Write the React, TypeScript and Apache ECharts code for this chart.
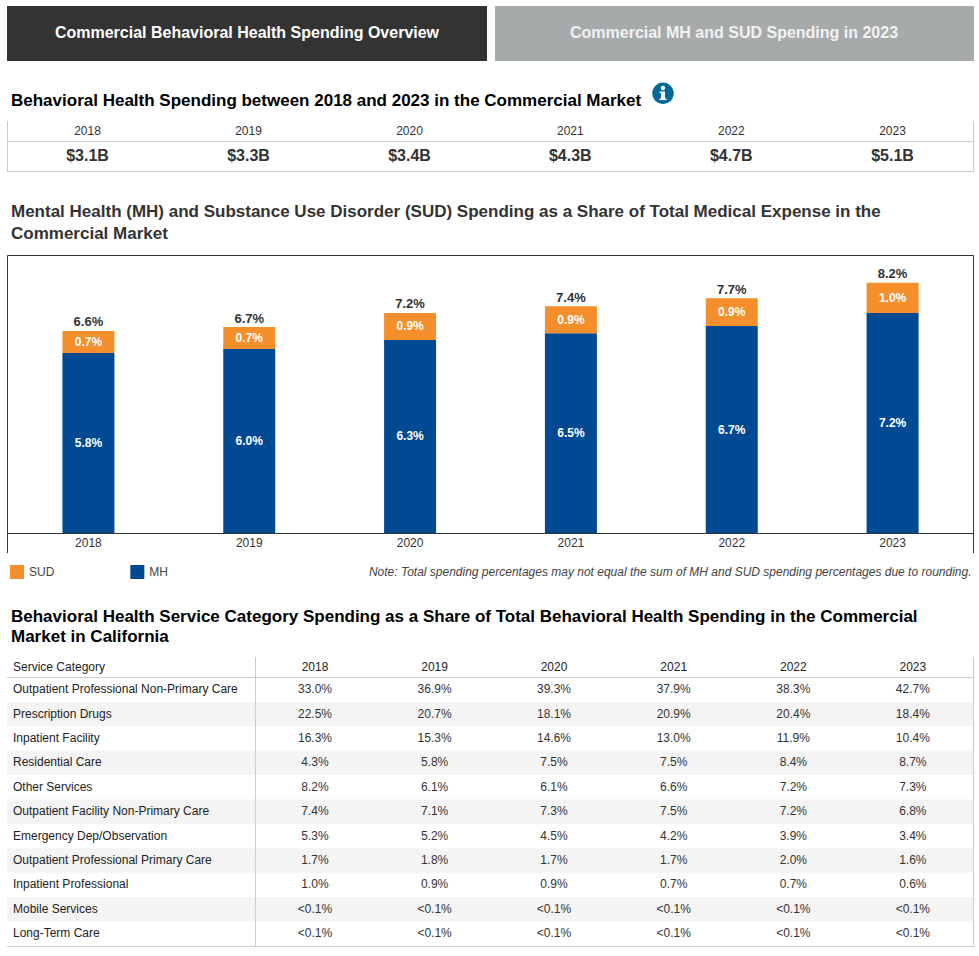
import React, { useEffect, useRef } from "react";
import * as echarts from "echarts";

const FONT = '"Liberation Sans", Arial, sans-serif';

const years = ["2018", "2019", "2020", "2021", "2022", "2023"];
const spending = ["$3.1B", "$3.3B", "$3.4B", "$4.3B", "$4.7B", "$5.1B"];
const mhValues = [5.86, 5.99, 6.29, 6.51, 6.74, 7.17];
const sudValues = [0.72, 0.72, 0.88, 0.88, 0.91, 0.98];
const mhLabels = ["5.8%", "6.0%", "6.3%", "6.5%", "6.7%", "7.2%"];
const sudLabels = ["0.7%", "0.7%", "0.9%", "0.9%", "0.9%", "1.0%"];
const totalValues = [6.58, 6.71, 7.17, 7.39, 7.65, 8.15];
const totalLabels = ["6.6%", "6.7%", "7.2%", "7.4%", "7.7%", "8.2%"];

const tabLeft = "Commercial Behavioral Health Spending Overview";
const tabRight = "Commercial MH and SUD Spending in 2023";
const heading1 = "Behavioral Health Spending between 2018 and 2023 in the Commercial Market";
const heading2 = [
  "Mental Health (MH) and Substance Use Disorder (SUD) Spending as a Share of Total Medical Expense in the",
  "Commercial Market",
];
const heading3 = [
  "Behavioral Health Service Category Spending as a Share of Total Behavioral Health Spending in the Commercial",
  "Market in California",
];
const note = "Note: Total spending percentages may not equal the sum of MH and SUD spending percentages due to rounding.";

const serviceHeader = "Service Category";
const serviceCategories = [
  "Outpatient Professional Non-Primary Care",
  "Prescription Drugs",
  "Inpatient Facility",
  "Residential Care",
  "Other Services",
  "Outpatient Facility Non-Primary Care",
  "Emergency Dep/Observation",
  "Outpatient Professional Primary Care",
  "Inpatient Professional",
  "Mobile Services",
  "Long-Term Care",
];
const share2018 = ["33.0%", "22.5%", "16.3%", "4.3%", "8.2%", "7.4%", "5.3%", "1.7%", "1.0%", "<0.1%", "<0.1%"];
const share2019 = ["36.9%", "20.7%", "15.3%", "5.8%", "6.1%", "7.1%", "5.2%", "1.8%", "0.9%", "<0.1%", "<0.1%"];
const share2020 = ["39.3%", "18.1%", "14.6%", "7.5%", "6.1%", "7.3%", "4.5%", "1.7%", "0.9%", "<0.1%", "<0.1%"];
const share2021 = ["37.9%", "20.9%", "13.0%", "7.5%", "6.6%", "7.5%", "4.2%", "1.7%", "0.7%", "<0.1%", "<0.1%"];
const share2022 = ["38.3%", "20.4%", "11.9%", "8.4%", "7.2%", "7.2%", "3.9%", "2.0%", "0.7%", "<0.1%", "<0.1%"];
const share2023 = ["42.7%", "18.4%", "10.4%", "8.7%", "7.3%", "6.8%", "3.4%", "1.6%", "0.6%", "<0.1%", "<0.1%"];
const shareColumns = [share2018, share2019, share2020, share2021, share2022, share2023];

const txt = (
  text: string,
  x: number,
  y: number,
  size: number,
  fill: string,
  opts: { weight?: string; align?: string; style?: string } = {}
) => ({
  type: "text",
  x,
  y,
  silent: true,
  style: {
    text,
    fill,
    fontFamily: FONT,
    fontSize: size,
    fontWeight: opts.weight || "normal",
    fontStyle: opts.style || "normal",
    textAlign: opts.align || "left",
    textVerticalAlign: "middle",
    verticalAlign: "middle",
  },
});
const rect = (x: number, y: number, width: number, height: number, fill: string) => ({
  type: "rect",
  silent: true,
  shape: { x, y, width, height },
  style: { fill },
});
const line = (x1: number, y1: number, x2: number, y2: number, stroke: string, lineWidth = 1) => ({
  type: "line",
  silent: true,
  shape: { x1, y1, x2, y2 },
  style: { stroke, lineWidth },
});

function buildGraphics() {
  const g: any[] = [];
  const rule = "#cccccc";
  // tabs
  g.push(rect(7, 6, 480, 55, "#333333"), rect(495, 6, 479, 55, "#a6aaaa"));
  g.push(txt(tabLeft, 247, 32, 16, "#ffffff", { weight: "bold", align: "center" }));
  g.push(txt(tabRight, 734, 32, 16, "#f2f2f2", { weight: "bold", align: "center" }));
  // heading 1 + info icon
  g.push(txt(heading1, 11, 100, 17, "#000000", { weight: "bold" }));
  g.push({ type: "circle", silent: true, shape: { cx: 663, cy: 93.3, r: 10.7 }, style: { fill: "#00689b" } });
  g.push({ type: "circle", silent: true, shape: { cx: 663, cy: 88, r: 2.2 }, style: { fill: "#ffffff" } });
  g.push(rect(661, 91.5, 4, 7.5, "#ffffff"), rect(659.5, 91.5, 2, 1.5, "#ffffff"), rect(659.5, 98.5, 7, 1.6, "#ffffff"));
  // spending table
  g.push(
    line(7.5, 121, 7.5, 172, rule),
    line(973.5, 121, 973.5, 172, rule),
    line(7, 141.5, 974, 141.5, rule),
    line(7, 171.5, 974, 171.5, rule)
  );
  const cols = [87.5, 248.5, 409.5, 570.3, 731.3, 892.5];
  years.forEach((y, i) => {
    g.push(txt(y, cols[i], 131, 12, "#333333", { align: "center" }));
    g.push(txt(spending[i], cols[i], 155.5, 16, "#333333", { weight: "bold", align: "center" }));
  });
  // heading 2
  heading2.forEach((t, i) => g.push(txt(t, 11, 211 + i * 22, 17, "#333333", { weight: "bold" })));
  // chart frame
  g.push({
    type: "polyline",
    silent: true,
    shape: { points: [[7.5, 553], [7.5, 255.5], [973.5, 255.5], [973.5, 553]] },
    style: { stroke: "#333333", lineWidth: 1, fill: "none" },
  });
  // note
  g.push(txt(note, 971.5, 572, 12, "#444444", { align: "right", style: "italic" }));
  // heading 3
  heading3.forEach((t, i) => g.push(txt(t, 11, 616 + i * 20, 17, "#000000", { weight: "bold" })));
  // service table
  const rowH = 24.4;
  const top = 677.5;
  serviceCategories.forEach((_, i) => {
    if (i % 2 === 1) g.push(rect(7, top + i * rowH, 966, rowH, "#f4f4f4"));
  });
  g.push(
    line(7, 677.5, 974, 677.5, rule),
    line(7, 946.5, 974, 946.5, rule),
    line(255.5, 657, 255.5, 947, rule),
    line(973.5, 657, 973.5, 947, rule)
  );
  const colX = [315, 434.6, 554, 673.7, 793.3, 912.8];
  g.push(txt(serviceHeader, 13, 667, 12, "#222222"));
  years.forEach((y, i) => g.push(txt(y, colX[i], 667, 12, "#222222", { align: "center" })));
  serviceCategories.forEach((c, r) => {
    const cy = top + rowH * (r + 0.5) - 0.5;
    g.push(txt(c, 13, cy, 12, "#222222"));
    shareColumns.forEach((col, j) => g.push(txt(col[r], colX[j], cy, 12, "#333333", { align: "center" })));
  });
  return g;
}

export default function App() {
  const ref = useRef<HTMLDivElement>(null);
  useEffect(() => {
    const chart = echarts.init(ref.current!, undefined, { renderer: "svg" });
    chart.setOption({
      animation: false,
      backgroundColor: "#ffffff",
      textStyle: { fontFamily: FONT },
      grid: { left: 8, right: 6, top: 256.7, bottom: 423, containLabel: false },
      legend: {
        left: 10,
        top: 565,
        padding: 0,
        orient: "horizontal",
        itemWidth: 14,
        itemHeight: 14,
        itemGap: 76,
        icon: "rect",
        selectedMode: false,
        data: ["SUD", "MH"],
        textStyle: { color: "#444444", fontSize: 12, fontFamily: FONT },
      },
      xAxis: {
        type: "category",
        data: years,
        axisLine: { show: true, lineStyle: { color: "#333333", width: 1 } },
        axisTick: { show: false },
        axisLabel: { color: "#333333", fontSize: 12, fontFamily: FONT, margin: 4 },
      },
      yAxis: { type: "value", min: 0, max: 9, show: false, splitLine: { show: false } },
      series: [
        {
          name: "MH",
          type: "bar",
          stack: "share",
          barWidth: 52,
          data: mhValues,
          itemStyle: { color: "#004a93" },
          label: {
            show: true,
            position: "inside",
            color: "#ffffff",
            fontSize: 12,
            fontWeight: "bold",
            fontFamily: FONT,
            formatter: (p: any) => mhLabels[p.dataIndex],
          },
        },
        {
          name: "SUD",
          type: "bar",
          stack: "share",
          barWidth: 52,
          data: sudValues,
          itemStyle: { color: "#f58f2c" },
          label: {
            show: true,
            position: "inside",
            color: "#ffffff",
            fontSize: 12,
            fontWeight: "bold",
            fontFamily: FONT,
            formatter: (p: any) => sudLabels[p.dataIndex],
          },
        },
        {
          name: "Total",
          type: "line",
          data: totalValues,
          symbol: "circle",
          symbolSize: 1,
          showSymbol: true,
          itemStyle: { color: "rgba(0,0,0,0)" },
          lineStyle: { color: "rgba(0,0,0,0)", width: 0 },
          label: {
            show: true,
            position: "top",
            distance: 2,
            color: "#333333",
            fontSize: 13,
            fontWeight: "bold",
            fontFamily: FONT,
            formatter: (p: any) => totalLabels[p.dataIndex],
          },
        },
      ],
      graphic: buildGraphics(),
    });
    return () => chart.dispose();
  }, []);
  return (
    <div
      ref={ref}
      style={{ position: "absolute", left: 0, top: 0, width: 979, height: 956 }}
    />
  );
}
